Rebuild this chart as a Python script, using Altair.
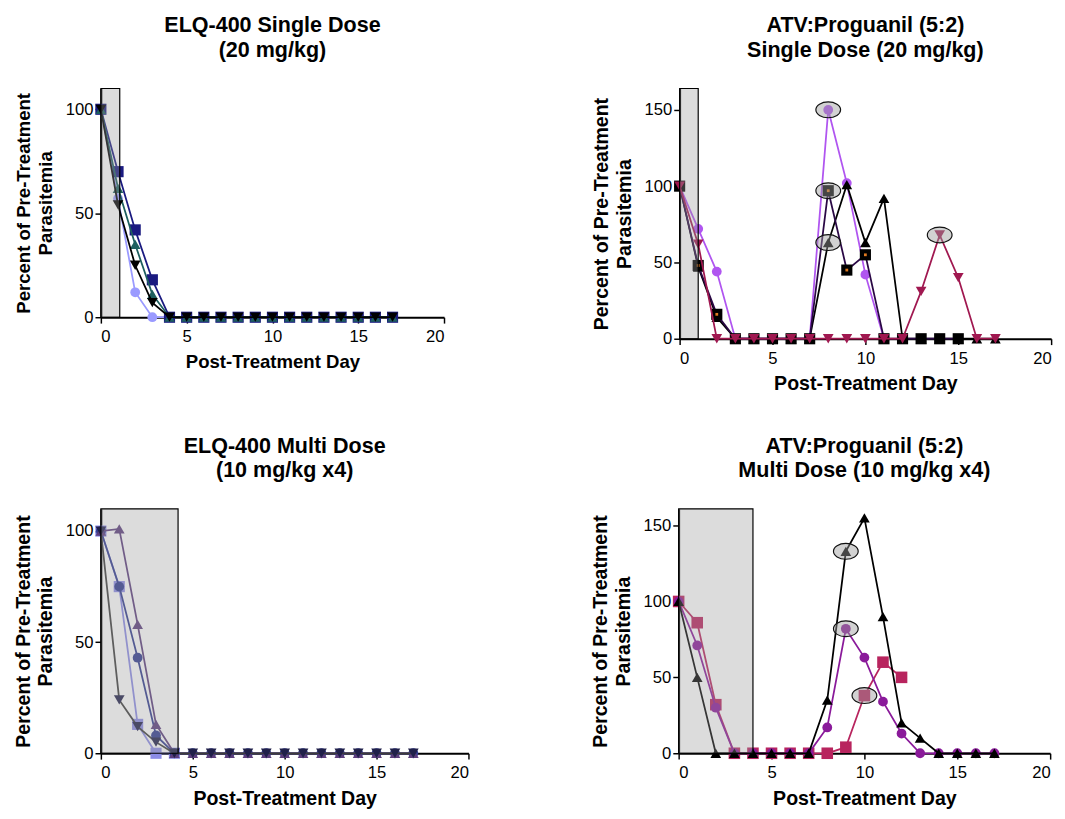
import altair as alt
import pandas as pd

FONT = "Liberation Sans"
days = list(range(18))
x_ticks = [0, 5, 10, 15, 20]

# ---------- Panel 1: ELQ-400 Single Dose (20 mg/kg)
p1_navy_sq = [100, 70, 42, 18] + [0] * 14
p1_teal_tri = [100, 62, 35, 11] + [0] * 14
p1_black_dn = [100, 54, 25, 7] + [0] * 14
p1_light_circ = [100, 57, 12, 0] + [0] * 14

# ---------- Panel 2: ATV:Proguanil Single Dose
p2_violet_circ = [100, 72, 44, 0, 0, 0, 0, 0, 150, 102, 42, 0]
p2_black_sq = [100, 48, 16, 0, 0, 0, 0, 0, 97, 45, 55, 0, 0, 0, 0, 0]
p2_black_tri = [100, 47, 14, 0, 0, 0, 0, 0, 63, 101, 63, 92, 0, 0, 0, 0, 0, 0]
p2_crimson_dn = [100, 62, 0, 0, 0, 0, 0, 0, 0, 0, 0, 0, 0, 31, 68, 40, 0, 0]
p2_circled_day = [8, 8, 8, 14]
p2_circled_pct = [150, 97, 63, 68]
p2_dot_day = [1, 2, 8, 9, 10]
p2_dot_pct = [48, 16, 97, 45, 55]

# ---------- Panel 3: ELQ-400 Multi Dose
p3_purple_tri = [100, 101, 58, 13] + [0] * 14
p3_navy_circ = [100, 75, 43, 8] + [0] * 14
p3_light_sq = [100, 75, 13, 0, 0]
p3_dark_dn = [100, 24, 12, 5] + [0] * 14

# ---------- Panel 4: ATV:Proguanil Multi Dose
p4_black_tri = [100, 50, 0, 0, 0, 0, 0, 0, 35, 133, 155, 90, 20, 10, 0, 0, 0, 0]
p4_purple_circ = [100, 71, 30, 0, 0, 0, 0, 0, 17, 82, 63, 34, 13, 0, 0, 0, 0, 0]
p4_crimson_sq = [100, 86, 32, 0, 0, 0, 0, 0, 0, 4, 38, 60, 50]
p4_circled_day = [9, 9, 10]
p4_circled_pct = [133, 82, 38]

ELLIPSE = "M-1,0 A1,0.64 0 1,0 1,0 A1,0.64 0 1,0 -1,0 Z"
YTITLE = ["Percent of Pre-Treatment", "Parasitemia"]


def panel(title, series, box_end, ymax, yvals, w, h, circled=None, dots=None,
          ytitle_pad=10, ytitle_size=19, title_offset=27):
    def X(field):
        return alt.X(field, type="quantitative",
                     scale=alt.Scale(domain=[0, 20], nice=False),
                     axis=alt.Axis(values=x_ticks, title="Post-Treatment Day",
                                   titleFontSize=ytitle_size))

    def Y(field):
        return alt.Y(field, type="quantitative",
                     scale=alt.Scale(domain=[0, ymax], nice=False),
                     axis=alt.Axis(values=yvals, title=YTITLE,
                                   titlePadding=ytitle_pad,
                                   titleFontSize=ytitle_size))

    layers = []
    for vals, line_c, mark_c, shape, size in series:
        df = pd.DataFrame({"day": days[:len(vals)], "pct": vals})
        b = alt.Chart(df)
        layers.append(b.mark_line(color=line_c, strokeWidth=1.8).encode(x=X("day"), y=Y("pct")))
        layers.append(b.mark_point(shape=shape, filled=True, size=size, color=mark_c,
                                   opacity=1).encode(x=X("day"), y=Y("pct")))
    if dots is not None:
        dd = pd.DataFrame({"day": dots[0], "pct": dots[1]})
        layers.append(alt.Chart(dd).mark_point(shape="square", filled=True, size=8,
                                               color="#e07a20", opacity=1)
                      .encode(x=X("day"), y=Y("pct")))
    if circled is not None:
        cd = pd.DataFrame({"day": circled[0], "pct": circled[1]})
        layers.append(alt.Chart(cd).mark_point(shape=ELLIPSE, size=640, filled=True,
                                               color="#9c9c9c", fillOpacity=0.45,
                                               stroke="#111111", strokeWidth=1.2,
                                               strokeOpacity=1)
                      .encode(x=X("day"), y=Y("pct")))
    box = pd.DataFrame({"x0": [0], "x1": [box_end], "y0": [0], "y1": [ymax]})
    layers.append(alt.Chart(box).mark_rect(fill="#9a9a9a", fillOpacity=0.35,
                                           stroke="black", strokeWidth=1.2)
                  .encode(x=X("x0"), x2="x1", y=Y("y0"), y2="y1"))
    return alt.layer(*layers).properties(
        width=w, height=h,
        title=alt.TitleParams(text=title, fontSize=22, font=FONT, fontWeight="bold",
                              anchor="middle", lineHeight=25, offset=title_offset,
                              color="black"))


SQ, CI, TR = 130, 100, 120

p1 = panel(["ELQ-400 Single Dose", "(20 mg/kg)"],
           [(p1_light_circ, "#9a9aff", "#9a9aff", "circle", CI),
            (p1_navy_sq, "#1a1a80", "#1a1a80", "square", SQ),
            (p1_teal_tri, "#1e5f5f", "#1e5f5f", "triangle-up", TR),
            (p1_black_dn, "#000000", "#000000", "triangle-down", TR)],
           1.1, 110, [0, 50, 100], 351, 234, ytitle_size=19, ytitle_pad=10)

p2 = panel(["ATV:Proguanil (5:2)", "Single Dose (20 mg/kg)"],
           [(p2_violet_circ, "#b055f0", "#b055f0", "circle", CI),
            (p2_black_tri, "#000000", "#000000", "triangle-up", TR),
            (p2_black_sq, "#2a0845", "#000000", "square", SQ),
            (p2_crimson_dn, "#a01850", "#a01850", "triangle-down", TR)],
           1.0, 164, [0, 50, 100, 150], 380, 256,
           circled=(p2_circled_day, p2_circled_pct),
           dots=(p2_dot_day, p2_dot_pct), ytitle_size=20)

p3 = panel(["ELQ-400 Multi Dose", "(10 mg/kg x4)"],
           [(p3_light_sq, "#8c8ce6", "#8c8ce6", "square", SQ),
            (p3_navy_circ, "#2f3a8f", "#2f3a8f", "circle", CI),
            (p3_purple_tri, "#5b3d7d", "#5b3d7d", "triangle-up", TR),
            (p3_dark_dn, "#3c3c3c", "#20204a", "triangle-down", TR)],
           4.2, 110, [0, 50, 100], 376, 250, ytitle_pad=10, ytitle_size=20)

p4 = panel(["ATV:Proguanil (5:2)", "Multi Dose (10 mg/kg x4)"],
           [(p4_crimson_sq, "#b8245e", "#b8245e", "square", SQ + 10),
            (p4_purple_circ, "#8a1a9a", "#8a1a9a", "circle", CI),
            (p4_black_tri, "#000000", "#000000", "triangle-up", TR)],
           4.0, 161, [0, 50, 100, 150], 380, 250,
           circled=(p4_circled_day, p4_circled_pct), ytitle_size=20)

chart = alt.vconcat(
    alt.hconcat(p1, p2, spacing=150),
    alt.hconcat(p3, p4, spacing=124),
    spacing=42,
).properties(
    padding={"left": 5, "top": -3, "right": 5, "bottom": 5}
).configure_view(stroke=None).configure_axis(
    grid=False, domainColor="black", domainWidth=2, tickColor="black", tickWidth=1.5,
    tickSize=6, labelFont=FONT, labelFontSize=17, labelColor="black", labelPadding=2,
    titleFont=FONT, titleFontWeight="bold", titleColor="black", titleLineHeight=23,
).configure_axisX(labelPadding=6, titlePadding=8)

chart.save("out.html", embed_options={"renderer": "svg", "actions": False})
